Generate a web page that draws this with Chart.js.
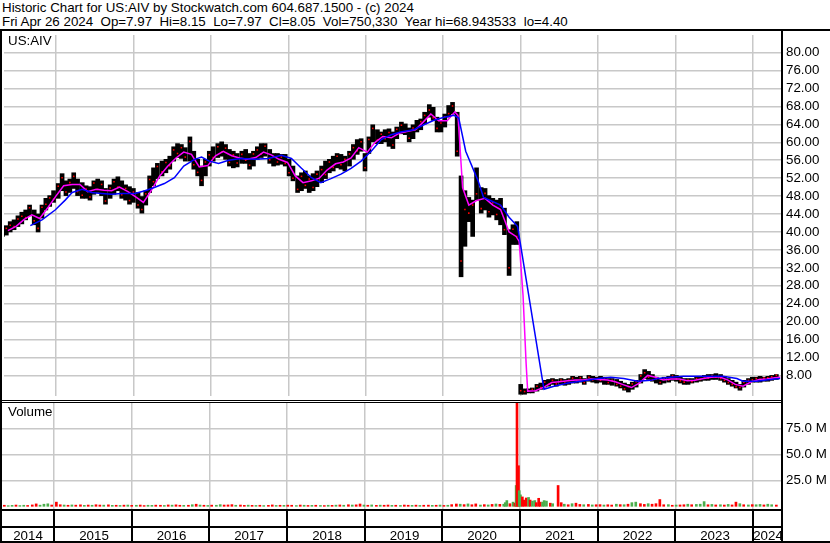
<!DOCTYPE html>
<html>
<head>
<meta charset="utf-8">
<script src="https://cdn.jsdelivr.net/npm/chart.js@4.4.0/dist/chart.umd.min.js"></script>
<style>
  body { margin: 0; background: #fff; }
  #wrap { position: relative; width: 830px; height: 543px; overflow: hidden; font-family: "Liberation Sans", Arial, sans-serif; color: #000; }
  #head { position: absolute; left: 0; top: 0; width: 830px; height: 28px; padding-top: 1px; border-bottom: 2px solid #000; font-size: 13.33px; line-height: 14px; white-space: pre; }
  #head div { padding-left: 2px; }
  #price { position: absolute; left: 0; top: 31px; }
  #vol { position: absolute; left: 0; top: 400px; }
  .tag { position: absolute; left: 8px; font-size: 13.33px; line-height: 14px; }
</style>
</head>
<body>
<div id="wrap">
  <div id="head"><div>Historic Chart for US:AIV by Stockwatch.com 604.687.1500 - (c) 2024</div><div>Fri Apr 26 2024  Op=7.97  Hi=8.15  Lo=7.97  Cl=8.05  Vol=750,330  Year hi=68.943533  lo=4.40</div></div>
  <canvas id="price" width="830" height="369"></canvas>
  <canvas id="vol" width="830" height="143"></canvas>
  <div class="tag" style="top:34px">US:AIV</div>
  <div class="tag" style="top:405px">Volume</div>
</div>
<script>
// axis stuff
const yearLines = [2015, 2016, 2017, 2018, 2019, 2020, 2021, 2022, 2023, 2024];
const yearLabels = ['2014', '2015', '2016', '2017', '2018', '2019', '2020', '2021', '2022', '2023', '2024'];
const priceTicks = [8, 12, 16, 20, 24, 28, 32, 36, 40, 44, 48, 52, 56, 60, 64, 68, 72, 76, 80];
const volTicks = [25, 50, 75];

// price bars (decimal year, high, low, close)
const barDates = [
  2014.31,2014.36,2014.41,2014.46,2014.51,2014.56,2014.61,2014.66,2014.72,2014.77,
  2014.82,2014.87,2014.92,2014.97,2015.03,2015.08,2015.13,2015.18,2015.23,2015.28,
  2015.34,2015.39,2015.44,2015.49,2015.54,2015.59,2015.64,2015.70,2015.75,2015.80,
  2015.85,2015.90,2015.95,2016.00,2016.06,2016.11,2016.16,2016.21,2016.26,2016.31,
  2016.37,2016.42,2016.47,2016.52,2016.57,2016.62,2016.67,2016.73,2016.78,2016.83,
  2016.88,2016.93,2016.98,2017.03,2017.09,2017.14,2017.19,2017.24,2017.29,2017.34,
  2017.40,2017.45,2017.50,2017.55,2017.60,2017.65,2017.70,2017.76,2017.81,2017.86,
  2017.91,2017.96,2018.01,2018.06,2018.12,2018.17,2018.22,2018.27,2018.32,2018.37,
  2018.43,2018.48,2018.53,2018.58,2018.63,2018.68,2018.73,2018.79,2018.84,2018.89,
  2018.94,2018.99,2019.04,2019.09,2019.15,2019.20,2019.25,2019.30,2019.35,2019.40,
  2019.46,2019.51,2019.56,2019.61,2019.66,2019.71,2019.76,2019.82,2019.87,2019.92,
  2019.97,2020.02,2020.07,2020.12,2020.18,2020.23,2020.28,2020.33,2020.38,2020.43,
  2020.49,2020.54,2020.59,2020.64,2020.69,2020.74,2020.79,2020.85,2020.90,2020.95,
  2021.00,2021.05,2021.10,2021.15,2021.21,2021.26,2021.31,2021.36,2021.41,2021.46,
  2021.52,2021.57,2021.62,2021.67,2021.72,2021.77,2021.82,2021.88,2021.93,2021.98,
  2022.03,2022.08,2022.13,2022.18,2022.24,2022.29,2022.34,2022.39,2022.44,2022.49,
  2022.55,2022.60,2022.65,2022.70,2022.75,2022.80,2022.85,2022.91,2022.96,2023.01,
  2023.06,2023.11,2023.16,2023.21,2023.27,2023.32,2023.37,2023.42,2023.47,2023.52,
  2023.58,2023.63,2023.68,2023.73,2023.78,2023.83,2023.88,2023.94,2023.99,2024.04,
  2024.09,2024.14,2024.19,2024.24,2024.30
];
const high = [
  41.0,41.4,42.3,42.7,43.6,44.4,44.9,46.0,44.9,44.0,
  46.0,47.5,48.1,49.2,50.8,53.0,51.4,51.8,53.2,51.8,
  51.0,50.3,50.1,51.4,51.8,51.4,49.7,50.5,51.8,52.3,
  51.4,50.5,50.1,49.7,48.8,47.9,49.2,52.5,54.3,55.3,
  55.8,56.2,56.9,59.0,59.7,59.5,58.8,61.2,58.0,56.2,
  54.7,56.2,58.0,59.0,59.7,60.1,59.5,58.4,58.0,57.5,
  58.0,58.4,57.5,58.0,59.0,59.7,59.7,58.4,57.5,57.5,
  57.3,57.3,56.2,54.7,52.5,53.2,53.6,52.5,53.0,53.6,
  54.7,55.8,56.2,56.9,57.5,57.3,56.9,58.0,59.5,60.6,
  60.8,57.5,61.2,63.9,62.8,62.3,62.8,63.0,62.3,63.4,
  64.5,64.1,63.2,63.9,64.9,65.2,66.7,68.4,67.8,65.6,
  64.9,66.3,68.2,68.9,66.7,52.5,49.2,47.7,47.1,54.3,
  49.9,49.7,48.1,47.5,47.1,47.5,45.3,40.5,41.6,42.3,
  6.0,5.0,5.0,5.2,6.0,6.3,6.9,7.1,7.3,7.1,
  7.3,7.1,7.3,7.8,7.6,7.8,7.3,8.0,7.8,7.6,
  7.8,7.6,7.3,7.3,7.1,6.7,6.3,6.0,6.5,6.9,
  8.2,9.3,8.9,8.2,7.6,7.3,7.6,7.8,8.2,8.0,
  7.6,7.3,7.3,7.3,7.6,7.8,8.0,8.2,8.2,8.4,
  8.2,7.8,7.3,6.9,6.5,6.0,6.9,7.3,7.6,7.6,
  7.8,7.6,7.8,8.0,8.2
];
const low = [
  39.0,39.3,40.0,40.5,41.2,41.8,42.7,43.6,41.6,40.0,
  43.1,44.9,45.7,46.6,47.5,49.2,48.1,48.8,49.7,48.1,
  47.5,47.5,47.1,48.4,48.8,48.1,46.2,47.5,48.4,49.2,
  47.5,47.1,46.2,46.6,45.3,44.2,46.0,48.8,50.3,51.9,
  52.5,53.2,54.0,55.8,56.6,56.4,55.8,55.8,54.0,52.5,
  50.3,52.5,54.7,55.8,56.6,56.9,56.2,54.7,54.3,54.5,
  55.3,55.3,54.0,54.7,56.2,56.6,56.9,55.3,54.7,54.9,
  55.1,54.7,52.5,51.4,48.8,49.2,49.7,48.8,49.2,50.1,
  51.0,51.9,53.2,53.6,54.3,54.0,53.6,54.7,56.2,57.3,
  58.0,53.6,57.5,60.1,59.7,59.7,60.1,59.1,58.6,60.8,
  61.9,61.7,60.1,60.8,62.3,62.8,64.1,65.6,64.9,62.3,
  62.3,63.4,65.6,66.3,56.9,30.0,36.8,42.3,39.0,47.1,
  44.2,44.9,43.3,43.8,42.7,41.6,39.4,30.3,37.2,37.2,
  3.8,3.8,4.1,4.1,4.5,4.9,5.4,5.6,6.0,5.6,
  6.0,5.8,6.0,6.3,6.3,6.5,6.0,6.7,6.5,6.3,
  6.5,6.0,6.0,5.8,5.6,5.2,4.7,4.3,4.9,5.4,
  6.3,7.3,7.1,6.7,6.3,6.0,6.3,6.5,6.9,6.7,
  6.3,6.0,6.0,6.3,6.5,6.7,6.9,6.9,7.1,7.1,
  6.9,6.5,6.0,5.6,5.2,4.7,5.4,6.0,6.5,6.5,
  6.5,6.7,6.7,6.9,7.1
];
const close = [
  40.2,40.8,41.5,41.2,42.9,43.5,43.2,45.4,42.5,40.8,
  45.5,46.2,47.6,47.3,50.2,52.1,48.9,51.0,52.4,49.0,
  48.2,49.6,47.8,50.9,49.5,50.6,46.9,49.8,51.2,50.0,
  48.3,49.7,47.0,48.9,46.0,45.0,48.5,51.7,51.2,54.6,
  53.4,55.5,54.8,58.3,57.5,58.8,56.7,60.2,55.0,53.3,
  51.5,55.6,57.2,56.6,59.0,57.8,58.7,55.5,57.2,55.4,
  57.3,56.0,54.9,57.4,58.3,57.4,59.1,56.1,56.8,55.6,
  56.7,55.3,53.2,52.0,49.5,52.4,50.4,51.8,49.9,52.9,
  53.9,52.8,55.6,54.4,56.9,55.0,56.2,57.4,58.8,58.1,
  60.1,54.3,60.6,63.1,60.5,61.8,60.8,62.2,59.4,62.9,
  63.8,62.4,60.9,63.2,63.0,64.6,66.0,67.2,65.5,63.1,
  64.3,65.7,66.4,68.1,58.0,33.5,45.0,44.2,46.0,48.5,
  45.2,48.6,44.5,46.5,43.9,45.8,40.5,32.0,40.6,39.0,
  4.6,4.4,4.5,4.9,5.6,5.3,6.5,6.0,6.9,6.1,
  7.0,6.3,6.9,7.4,6.7,7.5,6.4,7.6,7.0,7.3,
  6.9,7.2,6.4,6.9,6.0,5.6,5.0,5.5,6.1,6.6,
  7.9,8.6,7.6,7.0,7.2,6.4,7.3,7.0,7.9,7.2,
  6.8,6.5,7.0,6.6,7.3,7.1,7.7,7.4,7.9,7.6,
  7.3,6.9,6.4,6.0,5.5,5.3,6.5,6.9,7.0,7.3,
  7.1,7.4,7.5,7.7,8.05
];

// moving averages
const fastDates = [
  2014.38,2014.49,2014.59,2014.69,2014.79,2014.90,2015.00,2015.10,2015.21,2015.31,
  2015.41,2015.52,2015.62,2015.72,2015.82,2015.93,2016.03,2016.13,2016.24,2016.34,
  2016.44,2016.55,2016.65,2016.75,2016.85,2016.96,2017.06,2017.16,2017.27,2017.37,
  2017.47,2017.58,2017.68,2017.78,2017.88,2017.99,2018.09,2018.19,2018.30,2018.40,
  2018.50,2018.61,2018.71,2018.81,2018.91,2019.02,2019.12,2019.22,2019.33,2019.43,
  2019.53,2019.64,2019.74,2019.84,2019.94,2020.05,2020.15,2020.19,2020.25,2020.33,
  2020.43,2020.54,2020.64,2020.74,2020.85,2020.94,2020.98,2021.03,2021.07,2021.09,
  2021.19,2021.30,2021.40,2021.50,2021.61,2021.71,2021.81,2021.91,2022.02,2022.12,
  2022.22,2022.33,2022.43,2022.53,2022.64,2022.74,2022.84,2022.94,2023.05,2023.15,
  2023.25,2023.36,2023.46,2023.56,2023.67,2023.77,2023.87,2023.98,2024.08,2024.18,
  2024.28,2024.35
];
const fastMA = [
  40.3,41.3,42.8,43.8,43.0,45.5,48.0,50.3,50.6,50.6,
  49.0,49.5,49.3,49.2,50.0,49.0,47.8,46.6,49.5,52.5,
  54.6,56.5,57.8,57.3,54.5,54.8,57.0,58.0,57.0,56.5,
  56.2,56.6,57.8,57.2,56.2,55.5,52.5,51.0,51.4,52.0,
  53.8,55.2,55.6,56.5,58.8,57.8,60.0,61.3,61.0,62.0,
  62.4,62.8,64.5,66.3,64.8,64.8,66.8,66.0,49.9,46.0,
  47.0,47.5,46.0,45.0,40.0,39.0,37.9,25.9,10.6,4.5,
  4.6,5.4,6.4,6.6,6.8,7.0,7.0,7.2,7.1,7.0,
  6.6,5.9,5.3,6.3,8.0,7.6,7.0,7.2,7.2,6.8,
  6.9,7.3,7.6,7.7,7.0,6.0,5.6,6.6,7.1,7.2,
  7.5,7.6
];
const slowDates = [
  2014.67,2014.82,2014.99,2015.12,2015.21,2015.34,2015.46,2015.59,2015.72,2015.85,
  2016.02,2016.15,2016.27,2016.40,2016.53,2016.65,2016.79,2016.88,2016.98,2017.10,
  2017.23,2017.39,2017.56,2017.74,2017.91,2018.04,2018.17,2018.30,2018.42,2018.55,
  2018.68,2018.81,2018.94,2019.07,2019.20,2019.33,2019.45,2019.62,2019.75,2019.88,
  2020.01,2020.14,2020.20,2020.29,2020.45,2020.52,2020.74,2020.85,2020.96,2021.30,
  2021.43,2021.61,2021.78,2022.00,2022.16,2022.33,2022.51,2022.68,2022.77,2022.93,
  2023.10,2023.28,2023.45,2023.61,2023.79,2023.87,2024.05,2024.22,2024.35
];
const slowMA = [
  41.4,42.7,44.9,47.1,48.8,49.5,48.8,48.6,48.4,48.6,
  48.6,49.2,49.9,50.8,52.1,54.7,56.2,56.7,55.8,55.3,
  56.0,56.4,56.2,56.4,57.1,56.4,54.2,52.1,51.0,51.9,
  52.9,54.2,55.8,58.0,60.6,61.7,62.3,62.8,63.9,64.9,
  65.6,66.0,65.4,58.0,51.4,47.7,46.0,43.3,41.2,4.9,
  5.6,6.3,6.7,7.3,7.6,7.3,6.7,6.9,7.3,7.6,
  7.8,7.8,7.8,7.8,7.3,6.7,6.7,7.1,7.3
];

// volume in millions, same dates as barDates (null = shown in spike list), 1 = up day
const volume = [
  0.8,1.0,0.6,0.9,1.2,0.7,1.0,0.8,1.3,2.3,
  1.1,2.0,2.4,1.2,4.0,1.5,1.2,1.0,1.3,1.1,
  1.4,0.9,1.2,1.0,1.5,1.2,1.1,1.4,0.9,1.0,
  0.8,1.1,1.2,0.9,1.0,1.2,0.7,1.0,0.9,1.1,
  1.0,0.8,1.3,1.1,1.4,1.0,0.9,1.0,1.5,2.0,
  1.2,1.0,0.8,1.1,1.0,1.6,1.2,1.3,1.6,1.0,
  1.2,0.9,1.1,0.9,0.8,1.0,0.7,0.9,1.3,0.8,
  1.0,0.9,1.1,1.0,0.7,1.2,1.0,0.8,0.9,1.0,
  0.8,0.7,1.0,0.9,1.1,1.3,1.0,1.5,1.2,1.4,
  2.2,1.2,1.0,1.3,0.9,1.1,1.0,1.2,0.9,1.0,
  0.8,1.2,1.0,0.9,1.1,0.8,1.0,1.1,0.9,1.0,
  1.2,0.8,1.0,1.6,2.2,2.0,1.6,2.3,1.5,2.3,
  1.2,1.6,1.3,1.8,2.2,1.9,2.0,null,null,null,
  null,null,null,null,null,null,null,null,null,null,
  null,2.0,1.5,2.5,3.0,1.8,1.5,1.8,1.3,1.5,
  1.6,1.2,1.5,1.2,2.0,1.6,1.5,2.0,3.5,4.0,
  2.5,1.8,2.5,2.0,2.5,6.5,1.5,1.6,1.0,1.2,
  1.3,1.5,2.0,1.5,1.8,2.0,4.5,1.5,1.8,1.3,
  1.5,1.2,1.8,1.3,4.0,2.5,1.5,1.3,1.6,1.5,
  1.8,1.3,2.0,1.5,1.2
];
const volUp = [
  1,0,1,1,0,1,1,0,0,0, 1,1,1,0,0,0,1,0,1,0, 0,1,0,1,0,0,1,0,1,0, 1,0,1,0,1,0,0,1,1,0,
  0,1,0,1,0,0,1,0,1,0, 1,0,1,0,1,1,0,0,0,1, 0,0,1,0,1,0,1,0,0,1, 0,1,0,0,1,0,1,0,1,0,
  1,0,1,0,1,0,1,0,1,0, 0,1,0,1,0,1,0,0,1,0, 1,0,0,1,0,1,0,0,1,0, 1,0,1,0,0,1,0,1,0,0,
  1,0,1,0,1,0,1,0,0,0, 0,0,0,0,0,0,0,0,0,0, 0,1,0,1,0,0,1,0,1,0, 0,1,0,0,1,0,1,0,1,1,
  0,0,1,0,0,0,0,1,0,1, 0,0,1,0,1,1,1,0,1,0, 1,0,1,0,0,1,0,1,0,1, 1,0,1,1,0
];
// busy weeks around the Dec 2020 split
const spikeDates = [2020.81,2020.83,2020.87,2020.91,2020.935,2020.95,2020.961,2020.98,2020.99,2021.005,
  2021.03,2021.05,2021.08,2021.11,2021.13,2021.16,2021.19,2021.21,2021.24,2021.26,
  2021.29,2021.31,2021.34,2021.39,2021.42,2021.49,2021.53];
const spikeVol = [3.5,5.5,2.5,4.0,3.0,20,99,39,15,11, 9,6,8,8.5,6,5,5.5,3.5,7.7,4, 4,5.5,5,3,2.5,20,3.5];
const spikeUp = [1,1,0,1,0,1,0,0,1,1, 0,0,0,1,0,1,1,0,0,0, 1,1,1,0,1,0,0];

const FONT = '"Liberation Sans", Arial, sans-serif';
const GRID = '#c8c8c8';
const RED = '#ff0000';
const GREEN = '#4cae4c';

function yearTicks(s) { s.ticks = yearLines.map(v => ({ value: v })); }
// no extra room for half labels at the ends
function noPad(s) { s.paddingTop = 0; s.paddingBottom = 0; s.paddingLeft = 0; s.paddingRight = 0; }

// black left border + thick right axis line
const frame = {
  id: 'frame',
  afterDraw(chart) {
    const { ctx, chartArea: a, height } = chart;
    ctx.save();
    ctx.fillStyle = '#000';
    ctx.fillRect(0, 0, 2, height);
    ctx.fillRect(a.right, 0, 2, height);
    ctx.restore();
  }
};

// double line on top of volume + the year band under it
const band = {
  id: 'band',
  afterDraw(chart) {
    const { ctx, chartArea: a, width, height } = chart;
    const xs = chart.scales.x;
    ctx.save();
    ctx.fillStyle = '#000';
    ctx.fillRect(0, 0, a.right, 1);
    ctx.fillRect(0, 2, a.right, 1);
    ctx.fillRect(0, a.bottom, a.right, 2);
    ctx.fillRect(0, a.bottom + 17, a.right, 2);
    ctx.fillRect(0, height - 2, width, 2);
    const edges = [0];
    yearLines.forEach(v => {
      const px = Math.round(xs.getPixelForValue(v));
      edges.push(px);
      ctx.fillRect(px - 1, a.bottom, 2, height - a.bottom);
    });
    edges.push(a.right);
    ctx.font = '13.33px ' + FONT;
    ctx.textAlign = 'center';
    ctx.textBaseline = 'alphabetic';
    yearLabels.forEach((t, i) => ctx.fillText(t, (edges[i] + edges[i + 1]) / 2 + 1, height - 3));
    ctx.restore();
  }
};

const xMin = 2014.33, xMax = 2024.36;

new Chart(document.getElementById('price'), {
  data: {
    datasets: [
      { type: 'line', data: slowDates.map((d, i) => ({ x: d, y: slowMA[i] })), borderColor: '#0000ff', borderWidth: 1.5, pointRadius: 0, tension: 0 },
      { type: 'line', data: fastDates.map((d, i) => ({ x: d, y: fastMA[i] })), borderColor: '#ff00ff', borderWidth: 1.5, pointRadius: 0, tension: 0 },
      { type: 'scatter', data: barDates.map((d, i) => ({ x: d, y: close[i] })), pointStyle: 'rect', pointRadius: 1.1, backgroundColor: RED, borderWidth: 0 },
      { type: 'bar', data: barDates.map((d, i) => ({ x: d, y: [low[i], high[i]] })), backgroundColor: '#000', barThickness: 4, grouped: false }
    ]
  },
  options: {
    responsive: false,
    animation: false,
    layout: { padding: { left: 2, top: 0, right: 0, bottom: 0 } },
    plugins: { legend: { display: false }, tooltip: { enabled: false } },
    scales: {
      x: {
        type: 'linear', min: xMin, max: xMax, offset: false,
        afterBuildTicks: yearTicks,
        afterFit(s) { s.height = 0; noPad(s); },
        ticks: { display: false },
        grid: { color: GRID, lineWidth: 1.5, drawTicks: false, offset: false },
        border: { display: false }
      },
      y: {
        type: 'linear', position: 'right', min: 3.41, max: 83.93,
        afterBuildTicks(s) { s.ticks = priceTicks.map(v => ({ value: v })); },
        afterFit(s) { s.width = 49; noPad(s); },
        ticks: { callback: v => Number(v).toFixed(2), color: '#000', font: { size: 13.33, family: FONT }, padding: 5, crossAlign: 'near', autoSkip: false },
        grid: { color: GRID, lineWidth: 1.5, drawTicks: false },
        border: { display: false }
      }
    }
  },
  plugins: [frame]
});

new Chart(document.getElementById('vol'), {
  data: {
    datasets: [
      { type: 'bar', data: spikeDates.map((d, i) => ({ x: d, y: spikeVol[i] })), backgroundColor: spikeUp.map(u => u ? GREEN : RED), barThickness: 2, grouped: false },
      { type: 'bar', data: barDates.map((d, i) => ({ x: d, y: volume[i] })), backgroundColor: volUp.map(u => u ? GREEN : RED), barThickness: 2, grouped: false }
    ]
  },
  options: {
    responsive: false,
    animation: false,
    layout: { padding: { left: 2, top: 3, right: 0, bottom: 0 } },
    plugins: { legend: { display: false }, tooltip: { enabled: false } },
    scales: {
      x: {
        type: 'linear', min: xMin, max: xMax, offset: false,
        afterBuildTicks: yearTicks,
        afterFit(s) { s.height = 34; noPad(s); },
        ticks: { display: false },
        grid: { color: GRID, lineWidth: 1.5, drawTicks: false, offset: false },
        border: { display: false }
      },
      y: {
        type: 'linear', position: 'right', min: -2.6, max: 99.3,
        afterBuildTicks(s) { s.ticks = volTicks.map(v => ({ value: v })); },
        afterFit(s) { s.width = 49; noPad(s); },
        ticks: { callback: v => Number(v).toFixed(1) + ' M', color: '#000', font: { size: 13.33, family: FONT }, padding: 5, crossAlign: 'near', autoSkip: false },
        grid: { color: GRID, lineWidth: 1.5, drawTicks: false },
        border: { display: false }
      }
    }
  },
  plugins: [frame, band]
});
</script>
</body>
</html>
